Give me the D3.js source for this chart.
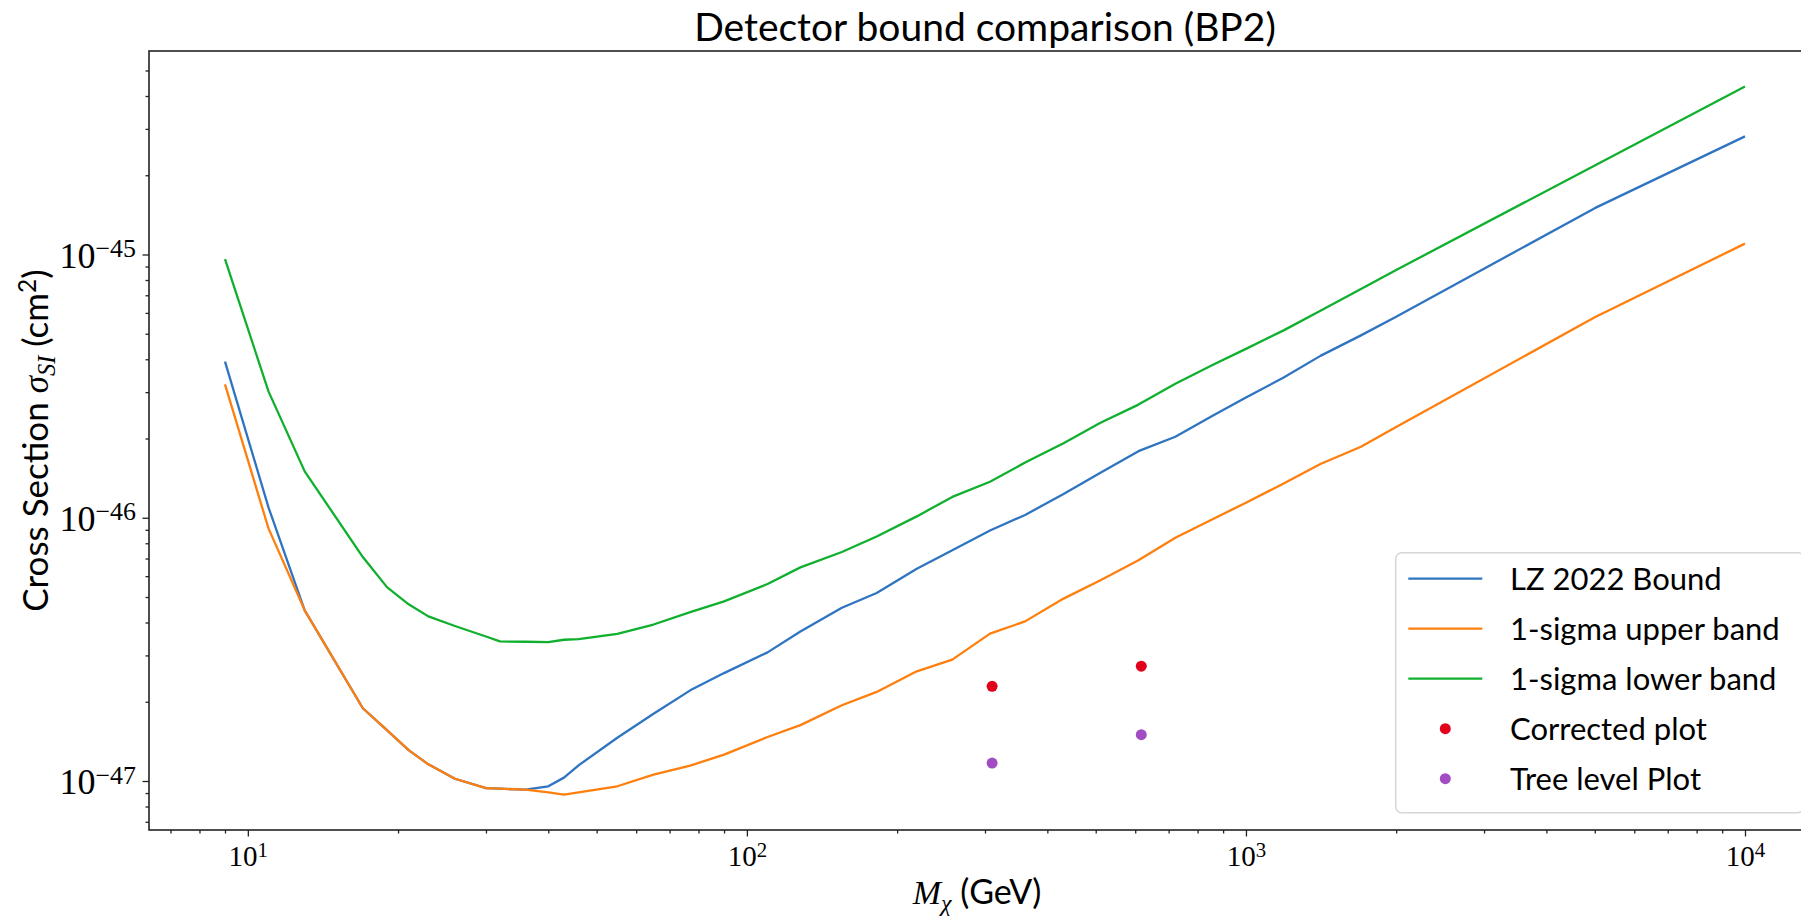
<!DOCTYPE html>
<html>
<head>
<meta charset="utf-8">
<script src="https://cdn.jsdelivr.net/npm/d3@7"></script>
<style>
    body { margin: 0; background: #fff; overflow: hidden; }
    svg { display: block; }
</style>
</head>
<body>
<div id="chart"></div>
<script>

// dark matter mass (GeV), shared by the three curves
const masses = [9, 11, 13, 17, 19, 21, 23, 26, 30, 32,
    36, 40, 43, 46, 55, 65, 77, 90, 110, 128,
    155, 182, 219, 258, 307, 361, 431, 510, 609, 722,
    861, 1000, 1190, 1410, 1700, 2000, 5000, 10000];

// cross sections (cm^2)
const lzBound = [3.92e-46, 1.095e-46, 4.45e-47, 1.89e-47, 1.56e-47, 1.31e-47, 1.157e-47, 1.02e-47, 9.40e-48, 9.35e-48,
    9.27e-48, 9.55e-48, 1.03e-47, 1.147e-47, 1.46e-47, 1.80e-47, 2.21e-47, 2.57e-47, 3.08e-47, 3.70e-47,
    4.55e-47, 5.18e-47, 6.40e-47, 7.52e-47, 8.95e-47, 1.025e-46, 1.23e-46, 1.48e-46, 1.79e-46, 2.03e-46,
    2.45e-46, 2.86e-46, 3.41e-46, 4.12e-46, 4.93e-46, 5.80e-46, 1.50e-45, 2.81e-45];

const upperBand = [3.21e-46, 9.11e-47, 4.45e-47, 1.89e-47, 1.56e-47, 1.31e-47, 1.157e-47, 1.02e-47, 9.40e-48, 9.35e-48,
    9.27e-48, 9.06e-48, 8.88e-48, 9.06e-48, 9.55e-48, 1.057e-47, 1.144e-47, 1.26e-47, 1.47e-47, 1.63e-47,
    1.94e-47, 2.18e-47, 2.61e-47, 2.89e-47, 3.63e-47, 4.04e-47, 4.93e-47, 5.78e-47, 6.89e-47, 8.40e-47,
    9.92e-47, 1.14e-46, 1.35e-46, 1.60e-46, 1.86e-46, 2.21e-46, 5.78e-46, 1.10e-45];

const lowerBand = [9.60e-46, 3.02e-46, 1.50e-46, 7.09e-47, 5.45e-47, 4.69e-47, 4.22e-47, 3.88e-47, 3.54e-47, 3.39e-47,
    3.38e-47, 3.37e-47, 3.44e-47, 3.46e-47, 3.62e-47, 3.93e-47, 4.38e-47, 4.81e-47, 5.60e-47, 6.48e-47,
    7.41e-47, 8.49e-47, 1.012e-46, 1.20e-46, 1.37e-46, 1.62e-46, 1.92e-46, 2.29e-46, 2.69e-46, 3.23e-46,
    3.82e-46, 4.38e-46, 5.15e-46, 6.11e-46, 7.40e-46, 8.73e-46, 2.18e-45, 4.35e-45];

// benchmark points
const pointMasses = [310, 617];
const correctedSigma = [2.29e-47, 2.73e-47];
const treeSigma = [1.17e-47, 1.50e-47];

// tick labels (powers of ten)
const xTickExponents = [1, 2, 3, 4];
const yTickExponents = [-47, -46, -45];

const SANS = "Lato, 'Open Sans', sans-serif";
const SERIF = "'Liberation Serif', 'DejaVu Serif', serif";

const series = [
    { label: "LZ 2022 Bound", values: lzBound, color: "#2f74c0" },
    { label: "1-sigma upper band", values: upperBand, color: "#ff7f0e" },
    { label: "1-sigma lower band", values: lowerBand, color: "#10b02e" }
];
const points = [
    { label: "Corrected plot", values: correctedSigma, color: "#e3001b" },
    { label: "Tree level Plot", values: treeSigma, color: "#a24cc4" }
];

const W = 1801, H = 917;
const margin = { top: 51, left: 149, bottom: 87 };
const width = 1672;   // right spine sits just past the page edge, as in the original
const height = H - margin.top - margin.bottom;

function padLog(lo, hi, f) {
    let a = Math.log10(lo), b = Math.log10(hi), p = (b - a) * f;
    return [Math.pow(10, a - p), Math.pow(10, b + p)];
}

function decadeTicks(domain) {
    let out = [];
    let k0 = Math.floor(Math.log10(domain[0])), k1 = Math.ceil(Math.log10(domain[1]));
    for (let k = k0; k <= k1; k++) {
        for (let m = 2; m <= 9; m++) {
            let v = m * Math.pow(10, k);
            if (v >= domain[0] && v <= domain[1]) out.push(v);
        }
    }
    return out;
}

function supLabel(sel, exps) {
    sel.selectAll(".tick text").each(function(d, i) {
        let t = d3.select(this).text("10");
        let e = exps[i];
        t.append("tspan")
            .attr("dy", "-0.42em")
            .attr("font-size", "72%")
            .text(e < 0 ? "\u2212" + Math.abs(e) : String(e));
    });
}

const svg = d3.select("#chart").append("svg")
    .attr("width", W)
    .attr("height", H)
    .append("g")
    .attr("transform", "translate(" + margin.left + "," + margin.top + ")");

const allY = lzBound.concat(upperBand, lowerBand, correctedSigma, treeSigma);
const x = d3.scaleLog()
    .domain(padLog(d3.min(masses), d3.max(masses), 0.05))
    .range([0, width]);
const y = d3.scaleLog()
    .domain(padLog(d3.min(allY), d3.max(allY), 0.05))
    .range([height, 0]);

// minor ticks
svg.append("g")
    .attr("transform", "translate(0," + height + ")")
    .call(d3.axisBottom(x).tickValues(decadeTicks(x.domain())).tickSize(3.5).tickFormat(""))
    .call(g => g.select(".domain").remove());
svg.append("g")
    .call(d3.axisLeft(y).tickValues(decadeTicks(y.domain())).tickSize(3.5).tickFormat(""))
    .call(g => g.select(".domain").remove());

// major ticks
let xAxis = svg.append("g")
    .attr("transform", "translate(0," + height + ")")
    .call(d3.axisBottom(x).tickValues(xTickExponents.map(e => Math.pow(10, e))).tickSize(6.5))
    .call(g => g.select(".domain").remove());
xAxis.selectAll(".tick text")
    .attr("y", 36)
    .attr("dy", 0)
    .attr("font-family", SERIF)
    .attr("font-size", 29)
    .attr("fill", "#000");
supLabel(xAxis, xTickExponents);

let yAxis = svg.append("g")
    .call(d3.axisLeft(y).tickValues(yTickExponents.map(e => Math.pow(10, e))).tickSize(6.5))
    .call(g => g.select(".domain").remove());
yAxis.selectAll(".tick text")
    .attr("x", -13)
    .attr("dy", "0.36em")
    .attr("font-family", SERIF)
    .attr("font-size", 36)
    .attr("fill", "#000");
supLabel(yAxis, yTickExponents);

svg.selectAll(".tick line").attr("stroke", "#222").attr("stroke-width", 1.3);

// curves
const line = d3.line()
    .x((d, i) => x(masses[i]))
    .y(d => y(d));

svg.append("g").selectAll("path")
    .data(series)
    .enter().append("path")
    .attr("d", d => line(d.values))
    .attr("fill", "none")
    .attr("stroke", d => d.color)
    .attr("stroke-width", 2.3)
    .attr("stroke-linejoin", "round");

points.forEach(function(p) {
    svg.append("g").selectAll("circle")
        .data(p.values)
        .enter().append("circle")
        .attr("cx", (d, i) => x(pointMasses[i]))
        .attr("cy", d => y(d))
        .attr("r", 5.5)
        .attr("fill", p.color);
});

// frame
svg.append("rect")
    .attr("width", width)
    .attr("height", height)
    .attr("fill", "none")
    .attr("stroke", "#222")
    .attr("stroke-width", 1.6);

// legend, lower right
const legW = 408, legH = 260, legPad = 17.3, rowH = 50;
let legend = svg.append("g")
    .attr("transform", "translate(" + (width - legPad - legW) + "," + (height - legPad - legH) + ")");
legend.append("rect")
    .attr("width", legW)
    .attr("height", legH)
    .attr("rx", 6)
    .attr("fill", "#fff")
    .attr("fill-opacity", 0.8)
    .attr("stroke", "#d6d6d6")
    .attr("stroke-width", 1.5);

let items = series.map(s => ({ label: s.label, color: s.color, kind: "line" }))
    .concat(points.map(p => ({ label: p.label, color: p.color, kind: "dot" })));

let row = legend.selectAll(".item")
    .data(items)
    .enter().append("g")
    .attr("class", "item")
    .attr("transform", (d, i) => "translate(0," + (26 + i * rowH) + ")");

row.filter(d => d.kind == "line").append("line")
    .attr("x1", 12.6).attr("x2", 86.6)
    .attr("stroke", d => d.color)
    .attr("stroke-width", 2.3);
row.filter(d => d.kind == "dot").append("circle")
    .attr("cx", 49.6)
    .attr("r", 5.5)
    .attr("fill", d => d.color);
row.append("text")
    .attr("x", 114.3)
    .attr("dy", "0.35em")
    .attr("font-family", SANS)
    .attr("font-size", 31)
    .attr("fill", "#000")
    .text(d => d.label);

// title
svg.append("text")
    .attr("x", width / 2)
    .attr("y", -10.5)
    .attr("text-anchor", "middle")
    .attr("font-family", SANS)
    .attr("font-size", 39)
    .attr("fill", "#000")
    .text("Detector bound comparison (BP2)");

// x label
let xl = svg.append("text")
    .attr("x", width / 2 - 8)
    .attr("y", height + 74)
    .attr("text-anchor", "middle")
    .attr("font-family", SANS)
    .attr("font-size", 34)
    .attr("fill", "#000");
xl.append("tspan").attr("font-family", SERIF).attr("font-style", "italic").text("M");
xl.append("tspan").attr("font-family", SERIF).attr("font-style", "italic")
    .attr("font-size", "70%").attr("dy", "0.3em").text("\u03c7");
xl.append("tspan").attr("dy", "-0.21em").text(" (GeV)");

// y label
let yl = svg.append("text")
    .attr("transform", "translate(-101," + (height / 2) + ") rotate(-90)")
    .attr("text-anchor", "middle")
    .attr("font-family", SANS)
    .attr("font-size", 35)
    .attr("fill", "#000");
yl.append("tspan").text("Cross Section ");
yl.append("tspan").attr("font-family", SERIF).attr("font-style", "italic").text("\u03c3");
yl.append("tspan").attr("font-family", SERIF).attr("font-style", "italic")
    .attr("font-size", "70%").attr("dy", "0.3em").text("SI");
yl.append("tspan").attr("dy", "-0.21em").text(" (cm");
yl.append("tspan").attr("font-size", "70%").attr("dy", "-0.5em").text("2");
yl.append("tspan").attr("dy", "0.35em").text(")");

</script>
</body>
</html>
